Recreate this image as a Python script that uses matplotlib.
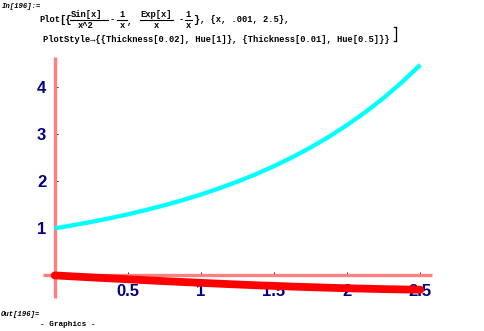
import matplotlib
matplotlib.use("Agg")
import matplotlib.pyplot as plt
from matplotlib.lines import Line2D

# data
x_vals = [0.001, 0.125, 0.25, 0.375, 0.5, 0.625, 0.75, 0.875, 1.0, 1.125, 1.25,
          1.375, 1.5, 1.625, 1.75, 1.875, 2.0, 2.125, 2.25, 2.375, 2.5]
red_vals = [0.0, -0.021, -0.042, -0.062, -0.082, -0.102, -0.122, -0.140, -0.158, -0.176, -0.193,
            -0.209, -0.223, -0.237, -0.250, -0.262, -0.273, -0.282, -0.291, -0.298, -0.304]
cyan_vals = [1.0, 1.065, 1.136, 1.213, 1.297, 1.389, 1.489, 1.599, 1.718, 1.849, 1.992,
             2.149, 2.321, 2.510, 2.717, 2.944, 3.195, 3.470, 3.772, 4.106, 4.473]
x_ticks = [0.5, 1, 1.5, 2, 2.5]
x_tick_labels = ["0.5", "1", "1.5", "2", "2.5"]
y_ticks = [1, 2, 3, 4]
y_tick_labels = ["1", "2", "3", "4"]

W, H = 484, 331
fig = plt.figure(figsize=(W / 100, H / 100), dpi=100)
fig.patch.set_facecolor("white")

def P(x, y):
    return (x / W, 1 - y / H)

ax = fig.add_axes([43 / W, (H - 298) / H, 389 / W, 241 / H])
ax.set_facecolor("white")
ax.set_xlim(-0.079, 2.58)
ax.set_ylim(-0.48, 4.64)
for s in ("top", "right"):
    ax.spines[s].set_visible(False)
for s in ("left", "bottom"):
    ax.spines[s].set_position(("data", 0))
    ax.spines[s].set_color("#FF8080")
    ax.spines[s].set_linewidth(2.4)
    ax.spines[s].set_capstyle("butt")

ax.plot(x_vals, cyan_vals, color="#00FFFF", lw=3.1, zorder=3, solid_capstyle="butt")
ax.plot(x_vals, red_vals, color="#FF0000", lw=5.6, zorder=4, solid_capstyle="round")

lab_font = dict(family=["Liberation Sans", "DejaVu Sans"], weight="bold", size=12)
ax.set_xticks(x_ticks)
ax.set_xticklabels(x_tick_labels, color="#000080", **lab_font)
ax.set_yticks(y_ticks)
ax.set_yticklabels(y_tick_labels, color="#000080", **lab_font)
ax.tick_params(axis="x", direction="in", length=2.5, width=0.6, color="black", pad=6.5)
ax.tick_params(axis="y", direction="in", length=2.5, width=0.6, color="black", pad=6)

mono = ["Liberation Mono", "DejaVu Sans Mono"]
code = dict(family=mono, weight="bold", size=6.3, va="center", ha="left", color="black")
codec = dict(family=mono, weight="bold", size=6.3, va="center", ha="center", color="black")

# notebook labels
fig.text(*P(2, 6), "In[196]:=", family=mono, style="italic", weight="bold", size=5.2, va="center")
fig.text(*P(1, 314), "Out[196]=", family=mono, style="italic", weight="bold", size=5.2, va="center")
fig.text(*P(40, 325), "- Graphics -", family=mono, weight="bold", size=5.6, va="center")

# first input line
fig.text(*P(39, 20), "Plot", **code)
fig.text(*P(59.5, 20), "[{", family=mono, weight="bold", size=7.5, va="center", ha="left")
fig.text(*P(87, 14.5), "Sin[x]", **codec)
fig.text(*P(86, 25), "x^2", **codec)
fig.add_artist(Line2D([70 / W, 108 / W], [1 - 20 / H, 1 - 20 / H], color="black", lw=0.8))
fig.text(*P(112, 20), "-", **codec)
fig.text(*P(122, 14.5), "1", **codec)
fig.text(*P(122, 25), "x", **codec)
fig.add_artist(Line2D([117 / W, 127 / W], [1 - 20 / H, 1 - 20 / H], color="black", lw=0.8))
fig.text(*P(130, 21), ",", **codec)
fig.text(*P(156, 14.5), "Exp[x]", **codec)
fig.text(*P(156, 25), "x", **codec)
fig.add_artist(Line2D([140 / W, 173 / W], [1 - 20 / H, 1 - 20 / H], color="black", lw=0.8))
fig.text(*P(181, 20), "-", **codec)
fig.text(*P(188.5, 14.5), "1", **codec)
fig.text(*P(188.5, 25), "x", **codec)
fig.add_artist(Line2D([185 / W, 192 / W], [1 - 20 / H, 1 - 20 / H], color="black", lw=0.8))
fig.text(*P(193.5, 20), "}", family=mono, weight="bold", size=7.5, va="center", ha="left")
fig.text(*P(200, 20), ", {x, .001, 2.5},", **code)

# second input line
fig.text(*P(43, 39), "PlotStyle\u2192{{Thickness[0.02], Hue[1]}, {Thickness[0.01], Hue[0.5]}}", **code)
fig.add_artist(Line2D([396 / W, 396 / W], [1 - 27 / H, 1 - 41 / H], color="black", lw=0.9))
fig.add_artist(Line2D([394 / W, 396 / W], [1 - 27 / H, 1 - 27 / H], color="black", lw=0.9))
fig.add_artist(Line2D([394 / W, 396 / W], [1 - 41 / H, 1 - 41 / H], color="black", lw=0.9))

fig.savefig("out.png", dpi=100, facecolor="white")
